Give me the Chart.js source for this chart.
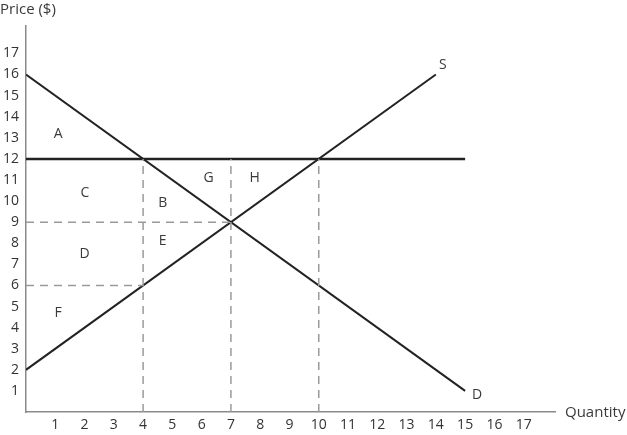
<!DOCTYPE html>
<html>
<head>
<meta charset="utf-8">
<script src="https://cdn.jsdelivr.net/npm/chart.js@4"></script>
<style>
  html, body { margin: 0; padding: 0; background: #fff; }
  #wrap { position: relative; width: 627px; height: 435px; }
</style>
</head>
<body>
<div id="wrap"><canvas id="chart" width="627" height="435"></canvas></div>
<script>
// ticks
const xTickValues = [1, 2, 3, 4, 5, 6, 7, 8, 9, 10, 11, 12, 13, 14, 15, 16, 17];
const yTickValues = [1, 2, 3, 4, 5, 6, 7, 8, 9, 10, 11, 12, 13, 14, 15, 16, 17];

// curves (quantity, price)
const demandQ = [0, 15];
const demandP = [16, 1];
const supplyQ = [0, 14];
const supplyP = [2, 16];
const floorQ = [0, 15];
const floorP = [12, 12];

// dashed guide segments: [q1, p1, q2, p2]
const guideSegments = [
  [4, 0, 4, 12],
  [7, 0, 7, 12],
  [10, 0, 10, 12],
  [0, 9, 7, 9],
  [0, 6, 4, 6],
];

// area / curve labels
const labelTexts = ['A', 'B', 'C', 'D', 'E', 'F', 'G', 'H', 'S', 'D'];
const labelQ = [1.1, 4.67, 2.01, 2.0, 4.67, 1.1, 6.24, 7.81, 14.24, 15.41];
const labelP = [13.17, 9.9, 10.38, 7.5, 8.12, 4.69, 11.09, 11.09, 16.43, 0.82];

const FONT = '"Open Sans", "DejaVu Sans", sans-serif';
const toPoints = (qs, ps) => qs.map((q, i) => ({ x: q, y: ps[i] }));

const guideDatasets = guideSegments.map(s => ({
  data: [{ x: s[0], y: s[1] }, { x: s[2], y: s[3] }],
  showLine: true,
  borderColor: '#9a9a9a',
  borderWidth: 1.5,
  borderDash: [8, 6],
  pointRadius: 0,
}));

const textPlugin = {
  id: 'textLabels',
  afterDatasetsDraw(chart) {
    const { ctx, scales: { x, y } } = chart;
    ctx.save();
    ctx.fillStyle = '#3a3a3a';
    ctx.font = '14px ' + FONT;
    ctx.textAlign = 'center';
    ctx.textBaseline = 'middle';
    labelTexts.forEach((t, i) => {
      ctx.fillText(t, x.getPixelForValue(labelQ[i]), y.getPixelForValue(labelP[i]));
    });
    // axis titles
    ctx.font = '15px ' + FONT;
    ctx.textAlign = 'left';
    ctx.fillText('Price ($)', 0, 10);
    ctx.fillText('Quantity', x.right + 10, y.bottom + 1);
    ctx.restore();
  }
};

new Chart(document.getElementById('chart'), {
  type: 'scatter',
  plugins: [textPlugin],
  data: {
    datasets: [
      ...guideDatasets,
      { data: toPoints(floorQ, floorP), showLine: true, borderColor: '#222', borderWidth: 2.5, pointRadius: 0 },
      { data: toPoints(demandQ, demandP), showLine: true, borderColor: '#222', borderWidth: 2, pointRadius: 0 },
      { data: toPoints(supplyQ, supplyP), showLine: true, borderColor: '#222', borderWidth: 2, pointRadius: 0 },
    ]
  },
  options: {
    responsive: false,
    animation: false,
    layout: { padding: { top: 26, right: 72, left: 0, bottom: 0 } },
    plugins: { legend: { display: false }, tooltip: { enabled: false } },
    scales: {
      x: {
        type: 'linear', min: 0, max: 18.07,
        afterBuildTicks: s => { s.ticks = xTickValues.map(v => ({ value: v })); },
        afterFit: s => { s.height = 23; },
        grid: { display: false, drawTicks: false },
        border: { display: true, color: '#8a8a8a', width: 1.5 },
        ticks: { color: '#333', font: { family: FONT, size: 14 }, padding: 5, maxRotation: 0, autoSkip: false },
      },
      y: {
        type: 'linear', min: 0, max: 18.3,
        afterBuildTicks: s => { s.ticks = yTickValues.map(v => ({ value: v })); },
        afterFit: s => { s.width = 26; },
        grid: { display: false, drawTicks: false },
        border: { display: true, color: '#8a8a8a', width: 1.5 },
        ticks: { color: '#333', font: { family: FONT, size: 14 }, padding: 7, autoSkip: false },
      }
    }
  }
});
</script>
</body>
</html>
